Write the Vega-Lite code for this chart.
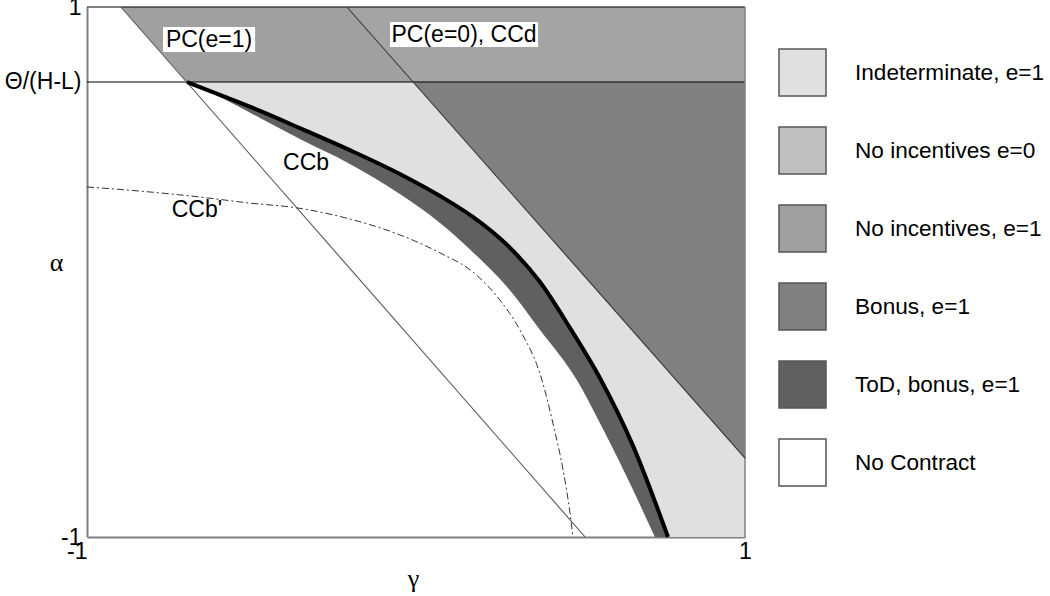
{
  "$schema": "https://vega.github.io/schema/vega-lite/v6.json",
  "width": 658,
  "height": 530,
  "autosize": {"type": "none"},
  "padding": {"left": 87, "top": 7, "right": 305, "bottom": 59},
  "background": "white",
  "config": {
    "view": {"stroke": null},
    "font": "Liberation Sans",
    "text": {"font": "Liberation Sans"}
  },
  "datasets": {
    "regions": [
      {"region": "ToD, bonus, e=1", "x": -0.696, "y": 0.717, "y2": 0.717},
      {"region": "ToD, bonus, e=1", "x": -0.596, "y": 0.660, "y2": 0.717},
      {"region": "ToD, bonus, e=1", "x": -0.474, "y": 0.581, "y2": 0.717},
      {"region": "ToD, bonus, e=1", "x": -0.353, "y": 0.502, "y2": 0.717},
      {"region": "ToD, bonus, e=1", "x": -0.201, "y": 0.408, "y2": 0.717},
      {"region": "ToD, bonus, e=1", "x": -0.049, "y": 0.294, "y2": 0.717},
      {"region": "ToD, bonus, e=1", "x": 0.073, "y": 0.185, "y2": 0.717},
      {"region": "ToD, bonus, e=1", "x": 0.173, "y": 0.075, "y2": 0.717},
      {"region": "ToD, bonus, e=1", "x": 0.277, "y": -0.057, "y2": 0.717},
      {"region": "ToD, bonus, e=1", "x": 0.377, "y": -0.219, "y2": 0.717},
      {"region": "ToD, bonus, e=1", "x": 0.489, "y": -0.408, "y2": 0.717},
      {"region": "ToD, bonus, e=1", "x": 0.559, "y": -0.570, "y2": 0.717},
      {"region": "ToD, bonus, e=1", "x": 0.660, "y": -0.823, "y2": 0.717},
      {"region": "ToD, bonus, e=1", "x": 0.726, "y": -1.0, "y2": 0.717},
      {"region": "ToD, bonus, e=1", "x": 0.8, "y": -1.2, "y2": 0.717},
      {"region": "ToD, bonus, e=1", "x": 1.0, "y": -1.2, "y2": 0.717},
      {"region": "Indeterminate, e=1", "x": -0.696, "y": 0.717, "y2": 0.717},
      {"region": "Indeterminate, e=1", "x": -0.596, "y": 0.668, "y2": 0.717},
      {"region": "Indeterminate, e=1", "x": -0.474, "y": 0.608, "y2": 0.717},
      {"region": "Indeterminate, e=1", "x": -0.353, "y": 0.543, "y2": 0.717},
      {"region": "Indeterminate, e=1", "x": -0.201, "y": 0.460, "y2": 0.717},
      {"region": "Indeterminate, e=1", "x": -0.049, "y": 0.370, "y2": 0.717},
      {"region": "Indeterminate, e=1", "x": 0.073, "y": 0.287, "y2": 0.717},
      {"region": "Indeterminate, e=1", "x": 0.173, "y": 0.208, "y2": 0.717},
      {"region": "Indeterminate, e=1", "x": 0.277, "y": 0.102, "y2": 0.717},
      {"region": "Indeterminate, e=1", "x": 0.377, "y": -0.038, "y2": 0.717},
      {"region": "Indeterminate, e=1", "x": 0.468, "y": -0.211, "y2": 0.717},
      {"region": "Indeterminate, e=1", "x": 0.559, "y": -0.400, "y2": 0.717},
      {"region": "Indeterminate, e=1", "x": 0.660, "y": -0.657, "y2": 0.717},
      {"region": "Indeterminate, e=1", "x": 0.766, "y": -1.0, "y2": 0.717},
      {"region": "Indeterminate, e=1", "x": 0.84, "y": -1.25, "y2": 0.717},
      {"region": "Indeterminate, e=1", "x": 1.0, "y": -1.25, "y2": 0.717},
      {"region": "Bonus, e=1", "x": -0.009, "y": 0.717, "y2": 0.717},
      {"region": "Bonus, e=1", "x": 1.0, "y": -0.702, "y2": 0.717},
      {"region": "No incentives, e=1", "x": -0.897, "y": 1.0, "y2": 1.0},
      {"region": "No incentives, e=1", "x": -0.696, "y": 0.717, "y2": 1.0},
      {"region": "No incentives, e=1", "x": -0.210, "y": 0.717, "y2": 1.0},
      {"region": "No incentives, e=1", "x": -0.009, "y": 0.717, "y2": 0.717},
      {"region": "PC(e=0) band", "x": -0.210, "y": 1.0, "y2": 1.0},
      {"region": "PC(e=0) band", "x": -0.009, "y": 0.717, "y2": 1.0},
      {"region": "PC(e=0) band", "x": 1.0, "y": 0.717, "y2": 1.0}
    ],
    "lines": [
      {"series": "theta", "x": -1, "y": 0.717},
      {"series": "theta", "x": 1, "y": 0.717},
      {"series": "top", "x": -1, "y": 1},
      {"series": "top", "x": 1, "y": 1},
      {"series": "right", "x": 1, "y": -1},
      {"series": "right", "x": 1, "y": 1},
      {"series": "PC1", "x": -0.897, "y": 1},
      {"series": "PC1", "x": 0.514, "y": -1},
      {"series": "PC0", "x": -0.210, "y": 1},
      {"series": "PC0", "x": 1, "y": -0.702},
      {"series": "CCb", "x": -0.696, "y": 0.717},
      {"series": "CCb", "x": -0.596, "y": 0.668},
      {"series": "CCb", "x": -0.474, "y": 0.608},
      {"series": "CCb", "x": -0.353, "y": 0.543},
      {"series": "CCb", "x": -0.201, "y": 0.460},
      {"series": "CCb", "x": -0.049, "y": 0.370},
      {"series": "CCb", "x": 0.073, "y": 0.287},
      {"series": "CCb", "x": 0.173, "y": 0.208},
      {"series": "CCb", "x": 0.277, "y": 0.102},
      {"series": "CCb", "x": 0.377, "y": -0.038},
      {"series": "CCb", "x": 0.468, "y": -0.211},
      {"series": "CCb", "x": 0.559, "y": -0.400},
      {"series": "CCb", "x": 0.660, "y": -0.657},
      {"series": "CCb", "x": 0.766, "y": -1.0},
      {"series": "CCb'", "x": -1.0, "y": 0.321},
      {"series": "CCb'", "x": -0.809, "y": 0.302},
      {"series": "CCb'", "x": -0.657, "y": 0.283},
      {"series": "CCb'", "x": -0.505, "y": 0.260},
      {"series": "CCb'", "x": -0.362, "y": 0.242},
      {"series": "CCb'", "x": -0.201, "y": 0.200},
      {"series": "CCb'", "x": -0.049, "y": 0.140},
      {"series": "CCb'", "x": 0.073, "y": 0.072},
      {"series": "CCb'", "x": 0.173, "y": 0.0},
      {"series": "CCb'", "x": 0.255, "y": -0.106},
      {"series": "CCb'", "x": 0.316, "y": -0.219},
      {"series": "CCb'", "x": 0.383, "y": -0.408},
      {"series": "CCb'", "x": 0.416, "y": -0.570},
      {"series": "CCb'", "x": 0.447, "y": -0.747},
      {"series": "CCb'", "x": 0.468, "y": -0.909},
      {"series": "CCb'", "x": 0.477, "y": -1.0}
    ],
    "boxes": [
      {"label": "PC(e=1)", "x": -0.769, "x2": -0.489, "y": 0.830, "y2": 0.925, "cx": -0.629, "cy": 0.877},
      {"label": "PC(e=0), CCd", "x": -0.079, "x2": 0.371, "y": 0.849, "y2": 0.943, "cx": 0.146, "cy": 0.896}
    ],
    "curveLabels": [
      {"label": "CCb", "x": -0.334, "y": 0.411},
      {"label": "CCb'", "x": -0.666, "y": 0.234}
    ]
  },
  "layer": [
    {
      "data": {"name": "regions"},
      "transform": [{"filter": "datum.region == 'ToD, bonus, e=1'"}],
      "mark": {"type": "area", "interpolate": "monotone", "clip": true},
      "encoding": {
        "x": {"field": "x", "type": "quantitative", "scale": {"domain": [-1, 1], "nice": false, "zero": false},
          "axis": {"values": [-1, 1], "labelExpr": "datum.value == 1 ? '1' : '-1'", "title": "γ", "grid": false, "ticks": false, "domainColor": "#808080", "domainWidth": 2,
            "labelFontSize": 23, "labelColor": "#000", "labelPadding": 3, "labelFont": "Liberation Sans",
            "labelAlign": {"condition": {"test": "datum.value == -1", "value": "right"}, "value": "center"},
            "titleFont": "Liberation Serif", "titleFontSize": 26, "titleFontWeight": "normal", "titleColor": "#000",
            "titleX": 326, "titleY": 41, "titleBaseline": "middle", "titleAlign": "center", "labelFlush": false}},
        "y": {"field": "y", "type": "quantitative", "scale": {"domain": [-1, 1], "nice": false, "zero": false},
          "axis": {"values": [-1, 0.717, 1], "labelExpr": "datum.value == 1 ? '1' : (datum.value == -1 ? '-1' : 'Θ/(H-L)')",
            "title": "α", "grid": false, "ticks": false, "domainColor": "#808080", "domainWidth": 2,
            "labelFontSize": 23, "labelColor": "#000", "labelPadding": 6, "labelFont": "Liberation Sans", "labelFlush": false,
            "titleFont": "Liberation Serif", "titleFontSize": 26, "titleFontWeight": "normal", "titleColor": "#000",
            "titleAngle": 0, "titleX": -31, "titleY": 255, "titleBaseline": "middle", "titleAlign": "center"}},
        "y2": {"field": "y2"},
        "color": {"field": "region", "type": "nominal",
          "scale": {"domain": ["Indeterminate, e=1", "No incentives e=0", "No incentives, e=1", "Bonus, e=1", "ToD, bonus, e=1", "No Contract"],
            "range": ["#e0e0e0", "#c0c0c0", "#a0a0a0", "#808080", "#606060", "#ffffff"]},
          "legend": {"orient": "none", "legendX": 691, "legendY": 41, "title": null, "padding": 0,
            "symbolType": "square", "symbolSize": 2209, "symbolStrokeColor": "#555555", "symbolStrokeWidth": 1.5,
            "symbolOpacity": 1, "labelFontSize": 22.6, "labelColor": "#000", "labelFont": "Liberation Sans",
            "labelOffset": 28, "rowPadding": 25, "labelLimit": 300}}
      }
    },
    {
      "data": {"name": "regions"},
      "transform": [{"filter": "datum.region == 'Indeterminate, e=1'"}],
      "mark": {"type": "area", "interpolate": "monotone", "clip": true},
      "encoding": {
        "x": {"field": "x", "type": "quantitative"},
        "y": {"field": "y", "type": "quantitative"},
        "y2": {"field": "y2"},
        "color": {"field": "region", "type": "nominal"}
      }
    },
    {
      "data": {"name": "regions"},
      "transform": [{"filter": "datum.region == 'Bonus, e=1'"}],
      "mark": {"type": "area", "interpolate": "linear"},
      "encoding": {
        "x": {"field": "x", "type": "quantitative"},
        "y": {"field": "y", "type": "quantitative"},
        "y2": {"field": "y2"},
        "color": {"field": "region", "type": "nominal"}
      }
    },
    {
      "data": {"name": "regions"},
      "transform": [{"filter": "datum.region == 'No incentives, e=1'"}],
      "mark": {"type": "area", "interpolate": "linear"},
      "encoding": {
        "x": {"field": "x", "type": "quantitative"},
        "y": {"field": "y", "type": "quantitative"},
        "y2": {"field": "y2"},
        "color": {"field": "region", "type": "nominal"}
      }
    },
    {
      "data": {"name": "regions"},
      "transform": [{"filter": "datum.region == 'PC(e=0) band'"}],
      "mark": {"type": "area", "interpolate": "linear", "color": "#a4a4a4"},
      "encoding": {
        "x": {"field": "x", "type": "quantitative"},
        "y": {"field": "y", "type": "quantitative"},
        "y2": {"field": "y2"}
      }
    },
    {
      "data": {"name": "lines"},
      "transform": [{"filter": "datum.series == 'theta' || datum.series == 'top'"}],
      "mark": {"type": "line", "color": "#000000", "strokeWidth": 1.2},
      "encoding": {"x": {"field": "x", "type": "quantitative"}, "y": {"field": "y", "type": "quantitative"}, "detail": {"field": "series"}}
    },
    {
      "data": {"name": "lines"},
      "transform": [{"filter": "datum.series == 'right'"}],
      "mark": {"type": "line", "color": "#808080", "strokeWidth": 1.5},
      "encoding": {"x": {"field": "x", "type": "quantitative"}, "y": {"field": "y", "type": "quantitative"}, "order": {"field": "y"}}
    },
    {
      "data": {"name": "lines"},
      "transform": [{"filter": "datum.series == 'PC1'"}],
      "mark": {"type": "line", "color": "#555555", "strokeWidth": 1.1},
      "encoding": {"x": {"field": "x", "type": "quantitative"}, "y": {"field": "y", "type": "quantitative"}}
    },
    {
      "data": {"name": "lines"},
      "transform": [{"filter": "datum.series == 'PC0'"}],
      "mark": {"type": "line", "color": "#333333", "strokeWidth": 1.1},
      "encoding": {"x": {"field": "x", "type": "quantitative"}, "y": {"field": "y", "type": "quantitative"}}
    },
    {
      "data": {"name": "lines"},
      "transform": [{"filter": "datum.series == 'CCb'"}],
      "mark": {"type": "line", "color": "#000000", "strokeWidth": 4, "interpolate": "monotone"},
      "encoding": {"x": {"field": "x", "type": "quantitative"}, "y": {"field": "y", "type": "quantitative"}}
    },
    {
      "data": {"name": "lines"},
      "transform": [{"filter": "datum.series == \"CCb'\""}],
      "mark": {"type": "line", "color": "#333333", "strokeWidth": 1, "strokeDash": [7, 3, 2, 3], "interpolate": "monotone"},
      "encoding": {"x": {"field": "x", "type": "quantitative"}, "y": {"field": "y", "type": "quantitative"}}
    },
    {
      "data": {"name": "boxes"},
      "mark": {"type": "rect", "color": "#ffffff"},
      "encoding": {"x": {"field": "x", "type": "quantitative"}, "x2": {"field": "x2"}, "y": {"field": "y", "type": "quantitative"}, "y2": {"field": "y2"}}
    },
    {
      "data": {"name": "boxes"},
      "mark": {"type": "text", "fontSize": 23, "color": "#000", "align": "center", "baseline": "middle"},
      "encoding": {"x": {"field": "cx", "type": "quantitative"}, "y": {"field": "cy", "type": "quantitative"}, "text": {"field": "label"}}
    },
    {
      "data": {"name": "curveLabels"},
      "mark": {"type": "text", "fontSize": 23, "color": "#000", "align": "center", "baseline": "middle"},
      "encoding": {"x": {"field": "x", "type": "quantitative"}, "y": {"field": "y", "type": "quantitative"}, "text": {"field": "label"}}
    }
  ]
}
